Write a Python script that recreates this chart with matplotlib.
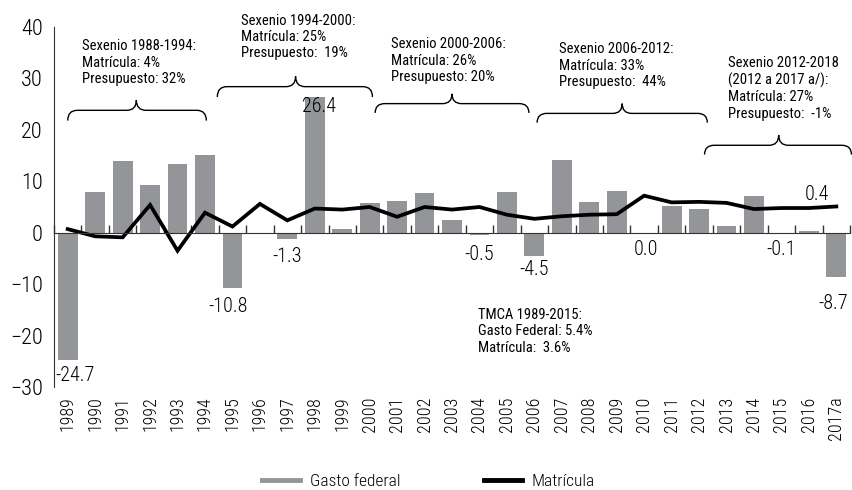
import matplotlib
matplotlib.use('Agg')
import matplotlib.pyplot as plt
import numpy as np

from matplotlib.lines import Line2D
from matplotlib.path import Path
from matplotlib.patches import PathPatch

plt.rcParams['font.family'] = ['Roboto Condensed', 'Archivo Narrow', 'DejaVu Sans']
plt.rcParams['font.weight'] = 'light'

years = ['1989', '1990', '1991', '1992', '1993', '1994', '1995', '1996', '1997', '1998',
         '1999', '2000', '2001', '2002', '2003', '2004', '2005', '2006', '2007', '2008',
         '2009', '2010', '2011', '2012', '2013', '2014', '2015', '2016', '2017a']

gasto_federal = [-24.7, 8.0, 14.0, 9.3, 13.4, 15.2, -10.8, 0.0, -1.3, 26.4,
                 0.8, 5.7, 6.2, 7.8, 2.5, -0.5, 8.0, -4.5, 14.2, 5.9,
                 8.2, 0.0, 5.1, 4.7, 1.4, 7.1, -0.1, 0.4, -8.7]

matricula = [0.7, -0.7, -0.9, 5.4, -3.5, 3.9, 1.2, 5.6, 2.4, 4.7,
             4.5, 5.0, 3.1, 5.0, 4.5, 5.0, 3.5, 2.7, 3.2, 3.5,
             3.6, 7.2, 5.9, 6.0, 5.8, 4.6, 4.8, 4.8, 5.1]

labeled_years = ['1989', '1995', '1997', '1998', '2004', '2006', '2010', '2015', '2016', '2017a']

sexenio_texts = [
  'Sexenio 1988-1994:\nMatrícula: 4%\nPresupuesto: 32%',
  'Sexenio 1994-2000:\nMatrícula: 25%\nPresupuesto:  19%',
  'Sexenio 2000-2006:\nMatrícula: 26%\nPresupuesto: 20%',
  'Sexenio 2006-2012:\nMatrícula: 33%\nPresupuesto:  44%',
  'Sexenio 2012-2018\n(2012 a 2017 a/):\nMatrícula: 27%\nPresupuesto:  -1%',
]
tmca_text = 'TMCA 1989-2015:\nGasto Federal: 5.4%\nMatrícula:  3.6%'

# layout: label offsets in points (dx, dy)
label_offsets = {
  '1989': (5, -11), '1995': (-3, -13), '1997': (0, -12), '1998': (3, -7),
  '2004': (0, -14), '2006': (0, -10), '2010': (1, -12), '2015': (0, -12),
  '2016': (6, 26), '2017a': (-2, -19),
}
# layout: (x0, x1, x_tip, y_end, y_mid, y_tip) for each brace, text anchor (x_left, y_top)
braces = [
  (0.0, 5.05, 2.5, 21.8, 23.8, 25.8),
  (5.45, 11.1, 8.3, 26.4, 28.4, 30.4),
  (11.2, 16.8, 14.0, 23.3, 25.1, 27.0),
  (17.1, 23.3, 20.2, 21.4, 23.2, 25.1),
  (23.2, 28.55, 25.9, 15.2, 17.0, 19.0),
]
text_anchors = [(0.52, 37.6), (6.33, 42.6), (11.76, 38.0), (17.9, 37.0), (24.06, 34.4)]

BAR_COLOR = '#939598'
AXIS_COLOR = '#333333'


def draw_brace(ax, x0, x1, xt, y_end, y_mid, y_tip, r=0.35):
  verts = [
    (x0, y_end), (x0, y_mid), (x0 + r, y_mid),
    (xt - r, y_mid),
    (xt, y_mid), (xt, y_tip),
    (xt, y_mid), (xt + r, y_mid),
    (x1 - r, y_mid),
    (x1, y_mid), (x1, y_end),
  ]
  codes = [
    Path.MOVETO, Path.CURVE3, Path.CURVE3,
    Path.LINETO,
    Path.CURVE3, Path.CURVE3,
    Path.CURVE3, Path.CURVE3,
    Path.LINETO,
    Path.CURVE3, Path.CURVE3,
  ]
  ax.add_patch(PathPatch(Path(verts, codes), fill=False, lw=1.0, color='black', clip_on=False))


fig = plt.figure(figsize=(8.52, 4.9), dpi=100)
ax = fig.add_axes([0.0634, 0.2102, 0.9343, 0.7347])

xs = np.arange(len(years))
ax.bar(xs, gasto_federal, width=0.72, color=BAR_COLOR, zorder=2)
ax.plot(xs, matricula, color='black', lw=2.7, zorder=3, solid_joinstyle='miter')

ax.set_xlim(-0.5, len(years) - 0.5)
ax.set_ylim(-30, 40)
ax.set_yticks(range(-30, 41, 10))

for spine in ('top', 'right'):
  ax.spines[spine].set_visible(False)
ax.spines['bottom'].set_position(('data', 0))
ax.spines['bottom'].set_color(AXIS_COLOR)
ax.spines['left'].set_color(AXIS_COLOR)
ax.spines['bottom'].set_zorder(4)

ax.set_xticks(xs)
ax.set_xticklabels(years, rotation=90)
ax.set_xticks(np.arange(len(years) + 1) - 0.5, minor=True)
ax.tick_params(axis='x', which='major', length=0, pad=118, labelsize=13)
ax.tick_params(axis='x', which='minor', direction='in', length=6, width=1, color=AXIS_COLOR)
ax.tick_params(axis='y', length=0, pad=8, labelsize=16)

for year in labeled_years:
  i = years.index(year)
  dx, dy = label_offsets[year]
  ax.annotate(f'{gasto_federal[i]:.1f}', (xs[i], gasto_federal[i]), xytext=(dx, dy),
              textcoords='offset points', ha='center', va='center', fontsize=14.5, zorder=5)

for brace, text, (tx, ty) in zip(braces, sexenio_texts, text_anchors):
  draw_brace(ax, *brace)
  ax.text(tx, ty, text, ha='left', va='top', fontsize=10.5, fontweight='normal',
          linespacing=1.22, clip_on=False)

ax.text(14.94, -14.6, tmca_text, ha='left', va='top', fontsize=10.5, fontweight='normal',
        linespacing=1.22)

handles = [
  Line2D([], [], color=BAR_COLOR, lw=3.5),
  Line2D([], [], color='black', lw=3.5),
]
fig.legend(handles, ['Gasto federal', 'Matrícula'], loc='center', bbox_to_anchor=(0.503, 0.017),
           ncol=2, frameon=False, fontsize=12.5, handlelength=2.2, handletextpad=0.55, columnspacing=4.8)

fig.savefig('out.png', dpi=100)
